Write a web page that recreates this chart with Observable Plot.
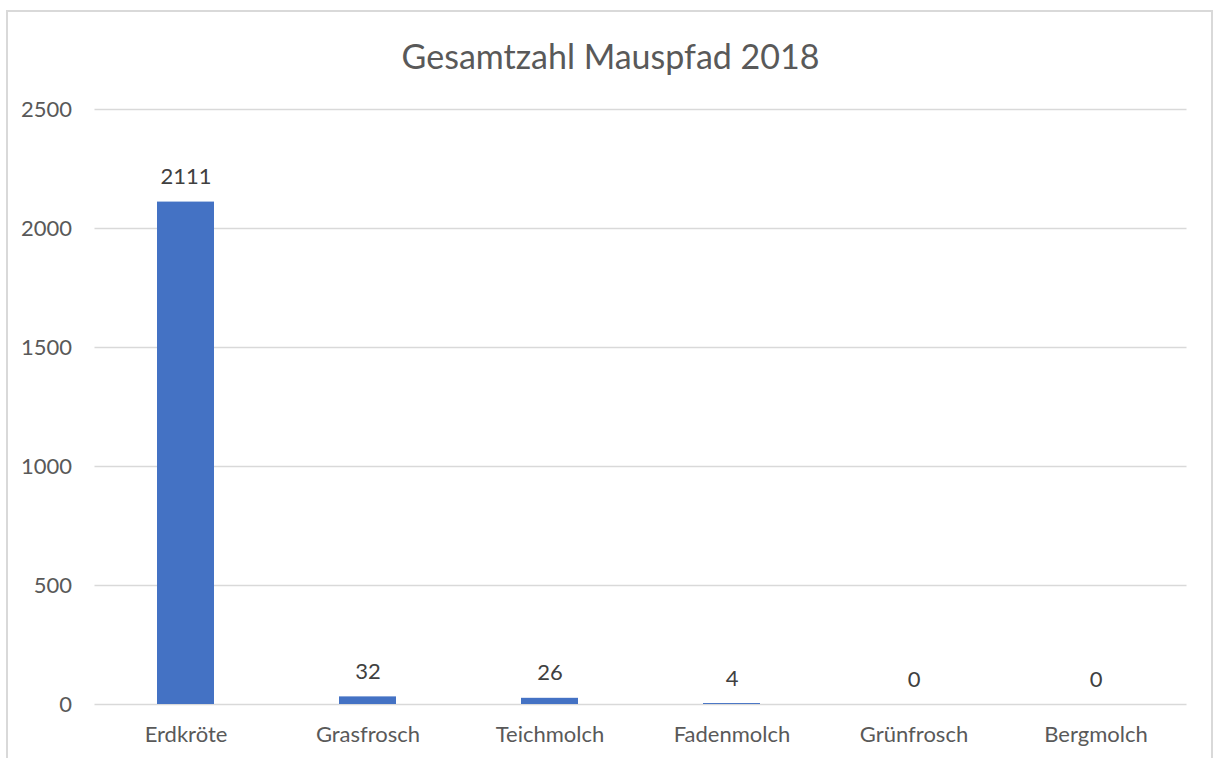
<!DOCTYPE html>
<html>
<head>
<meta charset="utf-8">
<script src="https://cdn.jsdelivr.net/npm/d3@7"></script>
<script src="https://cdn.jsdelivr.net/npm/@observablehq/plot@0.6"></script>
<style>
  html, body { margin: 0; padding: 0; background: #fff; }
  #wrap { position: relative; width: 1216px; height: 758px; overflow: hidden; font-family: Lato, "Open Sans", sans-serif; }
  #frame { position: absolute; left: 6px; top: 10px; width: 1207px; height: 800px; border: 2px solid #d9d9d9; box-sizing: border-box; }
  #title { position: absolute; left: 6px; width: 1209px; top: 31px; text-align: center; font-size: 34px; color: #595959; line-height: 50px; }
  #chart { position: absolute; left: 0; top: 0; }
</style>
</head>
<body>
<div id="wrap">
  <div id="frame"></div>
  <div id="title">Gesamtzahl Mauspfad 2018</div>
  <div id="chart"></div>
</div>
<script>
const species = ["Erdkröte", "Grasfrosch", "Teichmolch", "Fadenmolch", "Grünfrosch", "Bergmolch"];
const counts = [2111, 32, 26, 4, 0, 0];
const yTicks = [0, 500, 1000, 1500, 2000, 2500];

const data = species.map((s, i) => ({species: s, count: counts[i]}));

const chart = Plot.plot({
  width: 1216,
  height: 758,
  marginLeft: 94.5,
  marginRight: 29.5,
  marginTop: 109,
  marginBottom: 54,
  style: {fontFamily: "Lato, 'Open Sans', sans-serif", fontSize: "22px", color: "#595959", background: "transparent"},
  x: {domain: species, paddingInner: 0.687, paddingOuter: 0.3435, label: null},
  y: {domain: [0, 2500], label: null},
  marks: [
    Plot.gridY(yTicks, {stroke: "#d9d9d9", strokeOpacity: 1, strokeWidth: 1.5}),
    Plot.axisY(yTicks, {tickSize: 0, tickPadding: 23, fontSize: 22, fill: "#595959", label: null, tickFormat: d => String(d)}),
    Plot.axisX({tickSize: 0, tickPadding: 22, fontSize: 22, fill: "#595959", label: null}),
    Plot.barY(data, {x: "species", y: "count", fill: "#4472c4"}),
    Plot.text(data, {x: "species", y: "count", text: d => String(d.count), dy: -25, fontSize: 22, fill: "#404040"})
  ]
});
document.getElementById("chart").appendChild(chart);
</script>
</body>
</html>
